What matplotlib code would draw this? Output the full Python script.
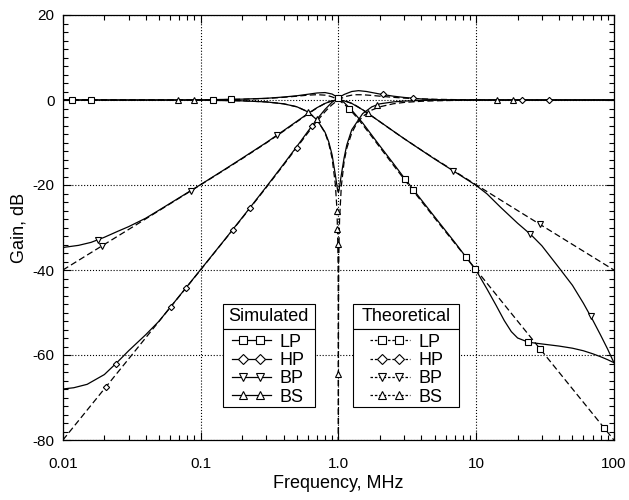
"""
Active filter frequency response: simulated vs theoretical (LP, HP, BP, BS).
"""

import matplotlib
matplotlib.use("Agg")  # headless
import matplotlib.pyplot as plt
import numpy as np
from matplotlib.legend import Legend
from matplotlib.legend_handler import HandlerLine2D
from matplotlib.lines import Line2D
from matplotlib.patches import Rectangle
from matplotlib.ticker import FixedLocator, LogLocator, MultipleLocator, NullFormatter

# ---- theoretical responses (f in MHz, gain in dB) ----
F_THEO = [0.01, 0.02, 0.03, 0.05, 0.1, 0.15, 0.2, 0.3, 0.4, 0.5, 0.6, 0.7, 0.8, 0.85,
          0.9, 0.95, 1.0, 1.05, 1.1, 1.15, 1.25, 1.35, 1.5, 1.75, 2, 2.5, 3, 4, 5, 7,
          10, 15, 20, 30, 50, 70, 100]
LP_THEO = [0.00, 0.00, 0.00, 0.01, 0.04, 0.10, 0.17, 0.37, 0.63, 0.90, 1.14, 1.25, 1.14, 0.97,
           0.73, 0.40, 0.00, -0.47, -0.98, -1.54, -2.74, -3.98, -5.81, -8.64, -11.14, -15.29,
           -18.63, -23.82, -27.79, -33.72, -39.96, -47.03, -52.03, -59.08, -67.96, -73.80, -80.00]
HP_THEO = [-80.00, -67.96, -60.92, -52.03, -39.96, -32.85, -27.79, -20.55, -15.29, -11.14, -7.74,
           -4.95, -2.74, -1.85, -1.10, -0.49, 0.00, 0.38, 0.67, 0.89, 1.14, 1.24, 1.23, 1.08, 0.90,
           0.63, 0.45, 0.26, 0.17, 0.09, 0.04, 0.01, 0.01, 0.00, 0.00, 0.00, 0.00]
BP_THEO = [-40.00, -33.98, -30.46, -26.01, -19.96, -16.38, -13.81, -10.09, -7.33, -5.12, -3.30,
           -1.85, -0.80, -0.44, -0.19, -0.05, 0.00, -0.04, -0.16, -0.33, -0.80, -1.37, -2.29,
           -3.78, -5.12, -7.33, -9.09, -11.78, -13.81, -16.81, -19.96, -23.50, -26.01, -29.54,
           -33.98, -36.90, -40.00]
F_BS_THEO = [0.01, 0.02, 0.05, 0.1, 0.15, 0.2, 0.3, 0.4, 0.5, 0.6, 0.7, 0.8, 0.85, 0.9, 0.95,
             0.97, 0.98, 0.99, 0.995, 0.999, 0.9997, 0.99995, 1.00005, 1.0003, 1.001, 1.005,
             1.01, 1.02, 1.05, 1.1, 1.15, 1.25, 1.35, 1.5, 1.75, 2, 2.5, 3, 4, 5, 7, 10, 20, 50, 100]
BS_THEO = [0.00, 0.00, -0.01, -0.04, -0.10, -0.18, -0.45, -0.89, -1.60, -2.74, -4.60, -7.74,
           -10.16, -13.70, -19.82, -24.32, -27.88, -33.93, -39.98, -53.97, -64.44, -80.00, -80.00,
           -64.44, -53.97, -40.02, -34.03, -28.05, -20.26, -14.54, -11.37, -7.74, -5.68, -3.87,
           -2.36, -1.60, -0.89, -0.57, -0.30, -0.19, -0.09, -0.04, -0.01, 0.00, 0.00]

# ---- simulated responses ----
F_LP_SIM = [0.01, 0.1, 0.2, 0.3, 0.4, 0.5, 0.6, 0.7, 0.8, 0.9, 1.0, 1.1, 1.25, 1.5, 2, 2.5, 3,
            4, 5, 7, 10, 12, 14, 16, 18, 20, 24, 30, 40, 50, 60, 70, 80, 90, 100]
LP_SIM = [0.00, 0.05, 0.20, 0.40, 0.70, 1.00, 1.35, 1.65, 1.75, 1.40, 0.50, -0.60, -2.40, -5.40,
          -10.80, -14.90, -18.30, -23.50, -27.50, -33.50, -40.10, -44.50, -48.40, -51.90, -54.50,
          -56.00, -57.00, -57.40, -57.90, -58.40, -59.00, -59.70, -60.40, -61.10, -61.80]
F_HP_SIM = [0.01, 0.012, 0.015, 0.02, 0.025, 0.03, 0.04, 0.05, 0.1, 0.15, 0.2, 0.3, 0.4, 0.5,
            0.6, 0.7, 0.8, 0.9, 1.0, 1.1, 1.25, 1.4, 1.6, 2, 2.5, 3, 4, 5, 7, 10, 100]
HP_SIM = [-68.0, -67.7, -66.9, -64.6, -61.6, -59.0, -55.2, -52.0, -39.9, -32.8, -27.7, -20.4,
          -15.1, -10.9, -7.4, -4.5, -2.2, -0.5, 0.5, 1.3, 2.0, 2.2, 2.0, 1.4, 0.9, 0.6, 0.25,
          0.1, 0.03, 0.0, 0.0]
F_BP_SIM = [0.01, 0.013, 0.016, 0.02, 0.025, 0.03, 0.04, 0.05, 0.1, 0.15, 0.2, 0.3, 0.4, 0.5,
            0.6, 0.7, 0.8, 0.9, 1.0, 1.1, 1.25, 1.5, 2, 3, 5, 7, 10, 12, 15, 20, 25, 30, 40, 50,
            60, 70, 80, 90, 100]
BP_SIM = [-34.7, -34.2, -33.5, -32.3, -30.9, -29.8, -27.8, -25.9, -19.9, -16.3, -13.7, -10.0,
          -7.2, -5.0, -3.2, -1.8, -0.8, -0.2, 0.0, -0.2, -0.8, -2.3, -5.1, -9.1, -13.9, -16.9,
          -20.1, -22.1, -25.2, -29.0, -31.7, -34.3, -39.5, -43.6, -47.8, -51.7, -55.3, -58.6, -61.8]
F_BS_SIM = [0.01, 0.1, 0.2, 0.3, 0.4, 0.5, 0.6, 0.7, 0.8, 0.85, 0.9, 0.95, 0.98, 0.99, 1.0,
            1.01, 1.02, 1.05, 1.1, 1.15, 1.25, 1.5, 1.75, 2, 2.5, 3, 4, 5, 7, 10, 100]
BS_SIM = [0.0, -0.05, -0.2, -0.45, -0.9, -1.6, -2.8, -4.7, -7.6, -9.8, -12.9, -17.6, -20.6,
          -21.4, -21.7, -21.3, -20.3, -17.6, -13.6, -10.6, -7.0, -3.2, -1.6, -0.9, -0.45, -0.25,
          -0.1, -0.05, 0.0, 0.0, 0.0]

# frequencies where the plotting program put its symbols
LP_SIM_MARK = [0.0116, 0.1227, 1.0, 3.04, 9.8, 23.8]
LP_THEO_MARK = [0.0159, 0.165, 1.19, 3.46, 8.43, 29.0, 84.5]
HP_SIM_MARK = [0.0242, 0.0785, 0.228, 0.646, 2.09, 21.4]
HP_THEO_MARK = [0.0206, 0.0605, 0.171, 0.498, 3.46, 33.7]
BP_SIM_MARK = [0.018, 0.36, 6.82, 24.8, 67.7]
BP_THEO_MARK = [0.0192, 0.085, 29.0]
BS_SIM_MARK = [0.0684, 0.597, 1.91, 14.06]
BS_THEO_MARK = [0.0893, 0.695, 0.975, 0.984, 0.99, 0.9997, 1.63, 18.6]

LABELS = ["LP", "HP", "BP", "BS"]
MARKERS = {"LP": ("s", 4.6), "HP": ("D", 3.2), "BP": ("v", 4.6), "BS": ("^", 4.6)}
DASH = (0, (5, 2.6))

plt.rcParams["font.family"] = ["Liberation Sans", "DejaVu Sans"]
plt.rcParams["axes.unicode_minus"] = False

fig = plt.figure(figsize=(6.29, 5.00), dpi=100)
ax = fig.add_axes([0.100, 0.12, 0.876, 0.85])


def draw(f, g, marks, name, ls):
    f = np.asarray(f)
    g = np.asarray(g)
    ax.plot(f, g, color="black", lw=0.9, ls=ls, zorder=2)
    mf = np.asarray(marks)
    mg = np.interp(np.log10(mf), np.log10(f), g)
    m, ms = MARKERS[name]
    ax.plot(mf, mg, ls="none", marker=m, ms=ms, mfc="white", mec="black", mew=0.8, zorder=3)


curves = [
    (F_THEO, LP_THEO, LP_THEO_MARK, "LP", DASH),
    (F_THEO, HP_THEO, HP_THEO_MARK, "HP", DASH),
    (F_THEO, BP_THEO, BP_THEO_MARK, "BP", DASH),
    (F_BS_THEO, BS_THEO, BS_THEO_MARK, "BS", DASH),
    (F_LP_SIM, LP_SIM, LP_SIM_MARK, "LP", "-"),
    (F_HP_SIM, HP_SIM, HP_SIM_MARK, "HP", "-"),
    (F_BP_SIM, BP_SIM, BP_SIM_MARK, "BP", "-"),
    (F_BS_SIM, BS_SIM, BS_SIM_MARK, "BS", "-"),
]
for f, g, marks, name, ls in curves:
    draw(f, g, marks, name, ls)

ax.set_xscale("log")
ax.set_xlim(0.01, 100)
ax.set_ylim(-80, 20)
ax.xaxis.set_major_locator(FixedLocator([0.01, 0.1, 1, 10, 100]))
ax.set_xticklabels(["0.01", "0.1", "1.0", "10", "100"])
ax.xaxis.set_minor_locator(LogLocator(base=10, subs=np.arange(2, 10)))
ax.xaxis.set_minor_formatter(NullFormatter())
ax.yaxis.set_major_locator(MultipleLocator(20))
ax.yaxis.set_minor_locator(MultipleLocator(2))
ax.tick_params(which="both", direction="in", top=True, right=True, labelsize=11)
ax.tick_params(axis="x", which="both", pad=12)
ax.tick_params(axis="y", which="both", pad=6)
ax.tick_params(which="major", length=6, width=0.8)
ax.tick_params(which="minor", length=3.5, width=0.8)
ax.grid(True, which="major", ls=":", color="black", lw=0.8)
for sp in ax.spines.values():
    sp.set_linewidth(0.9)

ax.set_xlabel("Frequency, MHz", fontsize=13, labelpad=3)
ax.set_ylabel("Gain, dB", fontsize=13, labelpad=4)


def boxed_legend(x0, x1, hx, title, ls):
    y_top, y_sep, y_bot = 0.32, 0.261, 0.078
    ax.add_patch(Rectangle((x0, y_sep), x1 - x0, y_top - y_sep, transform=ax.transAxes,
                           fc="white", ec="black", lw=0.8, zorder=5))
    ax.add_patch(Rectangle((x0, y_bot), x1 - x0, y_sep - y_bot, transform=ax.transAxes,
                           fc="white", ec="black", lw=0.8, zorder=5))
    ax.text((x0 + x1) / 2, (y_sep + y_top) / 2, title, transform=ax.transAxes,
            ha="center", va="center", fontsize=13, zorder=6)
    handles, hmap = [], {}
    for n in LABELS:
        line_h = Line2D([], [], color="black", lw=0.9, ls=ls)
        mark_h = Line2D([], [], ls="none", marker=MARKERS[n][0], ms=MARKERS[n][1] + 1.5,
                        mfc="white", mec="black", mew=0.8)
        hmap[line_h] = HandlerLine2D(marker_pad=0)
        hmap[mark_h] = HandlerLine2D(marker_pad=0.62)
        handles.append((line_h, mark_h))
    leg = Legend(ax, handles, LABELS, loc="upper left", bbox_to_anchor=(hx, y_sep - 0.011),
                 bbox_transform=ax.transAxes, frameon=False, fontsize=13, numpoints=2,
                 handlelength=2.2, handletextpad=0.45, labelspacing=0.07, borderpad=0,
                 borderaxespad=0, handler_map=hmap)
    leg.set_zorder(6)
    ax.add_artist(leg)


boxed_legend(0.290, 0.457, 0.306, "Simulated", "-")
boxed_legend(0.527, 0.719, 0.558, "Theoretical", (0, (2, 1.5)))

fig.savefig("out.png", dpi=100)
